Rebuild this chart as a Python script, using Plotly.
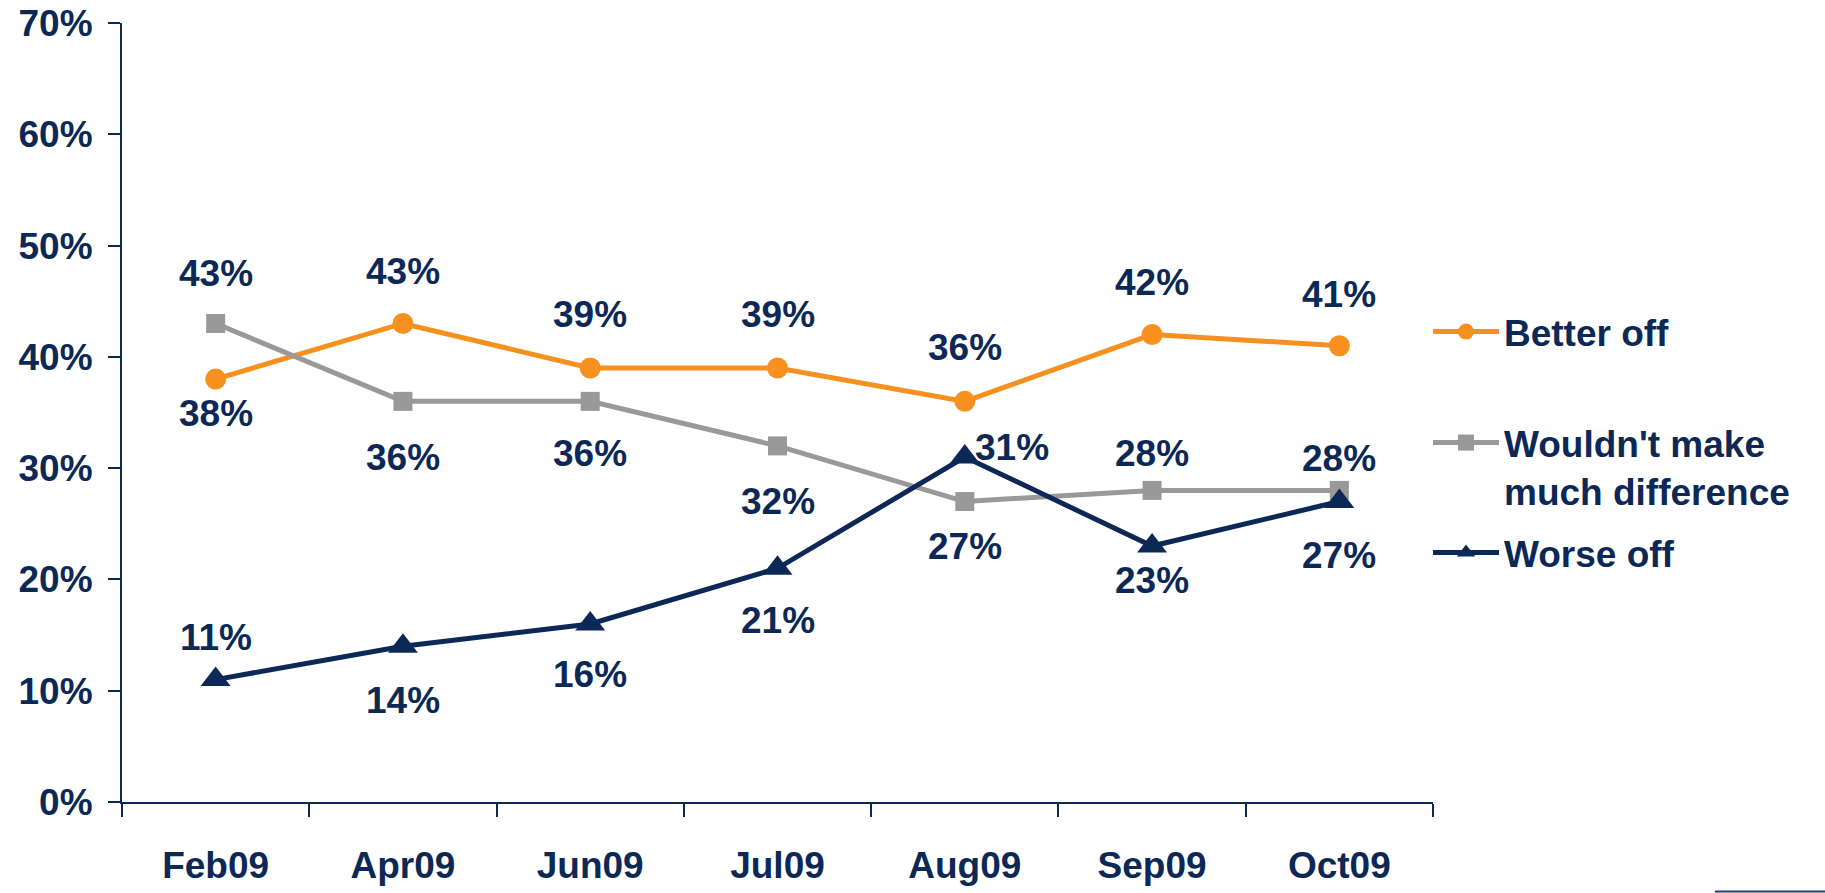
import plotly.graph_objects as go

# ---- data ----
months = ["Feb09", "Apr09", "Jun09", "Jul09", "Aug09", "Sep09", "Oct09"]
better_off = [38, 43, 39, 39, 36, 42, 41]
no_difference = [43, 36, 36, 32, 27, 28, 28]
worse_off = [11, 14, 16, 21, 31, 23, 27]
y_ticks = [0, 10, 20, 30, 40, 50, 60, 70]
y_tick_labels = [f"{v}%" for v in y_ticks]

# ---- label placement (style, pixels: vertical shift; "R" = right of point) ----
better_lbl = [-34, 52, 53, 53, 54, 52, 51]
nodiff_lbl = [50, -56, -52, -56, -45, 37, 32]
worse_lbl = [42, -54, -51, -52, "R", -34, -54]

NAVY = "#0C2856"
ORANGE = "#F7901E"
GRAY = "#999999"
FONT = "Liberation Sans"
FS = 37

W, H = 1825, 893
L, R, T, B = 122, 392, 23, 91
PW, PH = W - L - R, H - T - B


def py(p):
    return (H - B - p) / PH


def px(p):
    return (p - L) / PW


fig = go.Figure()

fig.add_trace(go.Scatter(
    x=months, y=better_off, name="Better off", mode="lines+markers",
    line=dict(color=ORANGE, width=5),
    marker=dict(symbol="circle", size=21, color=ORANGE),
    cliponaxis=False, legend="legend",
))
fig.add_trace(go.Scatter(
    x=months, y=no_difference, name="Wouldn't make<br>much difference",
    mode="lines+markers",
    line=dict(color=GRAY, width=5),
    marker=dict(symbol="square", size=19, color=GRAY),
    cliponaxis=False, legend="legend2",
))
fig.add_trace(go.Scatter(
    x=months, y=worse_off, name="Worse off", mode="lines+markers",
    line=dict(color=NAVY, width=5),
    marker=dict(symbol="triangle-up", size=26, color=NAVY),
    cliponaxis=False, legend="legend3",
))

annotations = []
for vals, offs in ((better_off, better_lbl), (no_difference, nodiff_lbl),
                   (worse_off, worse_lbl)):
    for m, v, o in zip(months, vals, offs):
        a = dict(x=m, y=v, xref="x", yref="y", text=f"{v}%", showarrow=False,
                 font=dict(family=FONT, size=FS, color=NAVY, weight="bold"))
        if o == "R":
            a.update(xanchor="left", yanchor="middle", xshift=8, yshift=10)
        else:
            a.update(xanchor="center", yanchor="middle", yshift=o)
        annotations.append(a)

legend_common = dict(
    font=dict(family=FONT, size=FS, color=NAVY, weight="bold"),
    bgcolor="rgba(0,0,0,0)", itemwidth=66, xanchor="left",
    x=px(1428), itemclick=False, itemdoubleclick=False,
)

fig.update_layout(
    width=W, height=H,
    margin=dict(l=L, r=R, t=T, b=B, pad=0, autoexpand=False),
    paper_bgcolor="white", plot_bgcolor="white",
    font=dict(family=FONT, size=FS, color=NAVY, weight="bold"),
    showlegend=True,
    legend=dict(**legend_common, y=py(332), yanchor="middle"),
    legend2=dict(**legend_common, y=py(467), yanchor="middle", valign="top"),
    legend3=dict(**legend_common, y=py(553), yanchor="middle"),
    annotations=annotations,
    shapes=[dict(type="line", xref="paper", yref="paper",
                 x0=px(1715), x1=px(1825), y0=py(891.5), y1=py(891.5),
                 line=dict(color="#1F3F6E", width=2))],
    xaxis=dict(
        type="category", range=[-0.5, 6.5], automargin=False,
        showline=True, linecolor=NAVY, linewidth=2,
        ticks="outside", tickson="boundaries", ticklen=13, tickwidth=2,
        tickcolor=NAVY, showgrid=False, zeroline=False,
        tickfont=dict(family=FONT, size=FS, color=NAVY, weight="bold"),
        ticklabelstandoff=30,
    ),
    yaxis=dict(
        range=[0, 70], tickvals=y_ticks, ticktext=y_tick_labels,
        automargin=False,
        showline=True, linecolor=NAVY, linewidth=2,
        ticks="outside", ticklen=12, tickwidth=2, tickcolor=NAVY,
        showgrid=False, zeroline=False,
        tickfont=dict(family=FONT, size=FS, color=NAVY, weight="bold"),
        ticklabelstandoff=8,
    ),
)

fig.write_html(
    "out.html",
    config={"displayModeBar": False},
    post_script="document.body.style.margin='0px';"
                "document.body.style.overflow='hidden';",
)
